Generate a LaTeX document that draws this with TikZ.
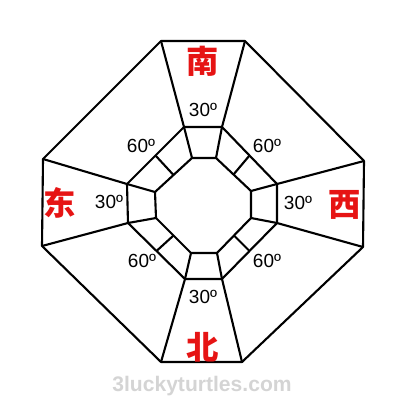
\documentclass[tikz,border=0pt]{standalone}
\usepackage{fontspec}
\setmainfont{Liberation Sans}
\newfontfamily\cjk{Noto Sans CJK SC}
\usepackage{tikz}
\usetikzlibrary{calc}

\definecolor{dirred}{RGB}{230,20,20}
\definecolor{markgray}{RGB}{212,212,212}

\begin{document}
\begin{tikzpicture}[x=0.025cm,y=-0.025cm,line width=1.5pt,line join=round,
	deg/.style={font=\fontsize{13.5}{13.5}\selectfont},
	dir/.style={text=dirred,font=\cjk\bfseries\fontsize{23}{23}\selectfont}]
	\useasboundingbox (0,0) rectangle (400,400);
	% outer ring
	\coordinate (o1) at (161,41);
	\coordinate (o2) at (245,41);
	\coordinate (o3) at (364,161);
	\coordinate (o4) at (363,247);
	\coordinate (o5) at (242,362);
	\coordinate (o6) at (161,362);
	\coordinate (o7) at (42,246);
	\coordinate (o8) at (43,159);
	% middle ring
	\coordinate (m1) at (184,127);
	\coordinate (m2) at (222,127);
	\coordinate (m3) at (277,184);
	\coordinate (m4) at (277,223);
	\coordinate (m5) at (222,279);
	\coordinate (m6) at (185,279);
	\coordinate (m7) at (128,223);
	\coordinate (m8) at (127,184);
	% inner ring
	\coordinate (i1) at (192,158);
	\coordinate (i2) at (216,158);
	\coordinate (i3) at (251,191);
	\coordinate (i4) at (251,218);
	\coordinate (i5) at (217,253);
	\coordinate (i6) at (191,253);
	\coordinate (i7) at (156,218);
	\coordinate (i8) at (155,192);
	%
	\draw (o1) -- (o2) -- (o3) -- (o4) -- (o5) -- (o6) -- (o7) -- (o8) -- cycle;
	\draw (m1) -- (m2) -- (m3) -- (m4) -- (m5) -- (m6) -- (m7) -- (m8) -- cycle;
	\draw (i1) -- (i2) -- (i3) -- (i4) -- (i5) -- (i6) -- (i7) -- (i8) -- cycle;
	%
	\draw (o1) -- (m1);
	\draw (o2) -- (m2);
	\draw (o3) -- (m3);
	\draw (o4) -- (m4);
	\draw (o5) -- (m5);
	\draw (o6) -- (m6);
	\draw (o7) -- (m7);
	\draw (o8) -- (m8);
	%
	\draw (m1) -- (i1);
	\draw (m2) -- (i2);
	\draw (m3) -- (i3);
	\draw (m4) -- (i4);
	\draw (m5) -- (i5);
	\draw (m6) -- (i6);
	\draw (m7) -- (i7);
	\draw (m8) -- (i8);
	%
	\draw ($(m2)!0.5!(m3)$) -- ($(i2)!0.5!(i3)$);
	\draw ($(m4)!0.5!(m5)$) -- ($(i4)!0.5!(i5)$);
	\draw ($(m6)!0.5!(m7)$) -- ($(i6)!0.5!(i7)$);
	\draw ($(m8)!0.5!(m1)$) -- ($(i8)!0.5!(i1)$);
	%
	\node [dir] (south) at (203,61) {南};
	\node [dir] (north) at (203,347) {北};
	\node [dir] (east) at (60,203) {东};
	\node [dir] (west) at (345,205) {西};
	%
	\node [deg] (dS) at (203,110) {30º};
	\node [deg] (dN) at (203,297) {30º};
	\node [deg] (dE) at (109,202) {30º};
	\node [deg] (dW) at (298,203) {30º};
	\node [deg] (dNW) at (141,146) {60º};
	\node [deg] (dNE) at (267,146) {60º};
	\node [deg] (dSW) at (142,261) {60º};
	\node [deg] (dSE) at (267,261) {60º};
	%
	\node [text=markgray,font=\bfseries\fontsize{15}{15}\selectfont] (site) at (202,386) {3luckyturtles.com};
\end{tikzpicture}
\end{document}
